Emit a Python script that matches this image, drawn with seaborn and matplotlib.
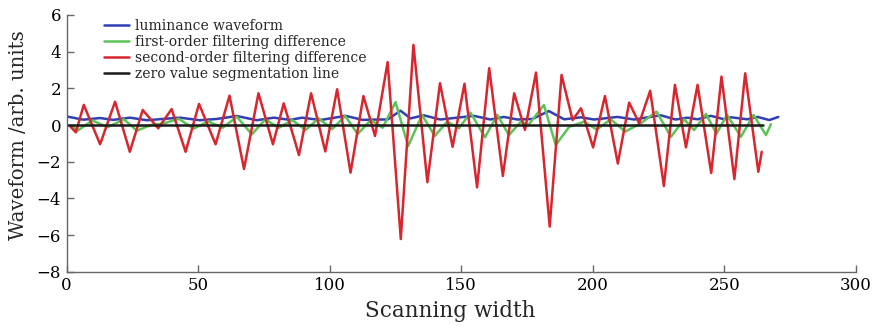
import numpy as np
import pandas as pd
import seaborn as sns
import matplotlib
matplotlib.use("Agg")
import matplotlib.pyplot as plt

# ---- data (x, value at extrema) ----
lum_x = [0.6, 6.3, 12.7, 17.7, 24.1, 30.5, 36.5, 43.1, 50.7, 57.0, 64.7, 72.3, 78.7, 85.0,
         89.5, 96.4, 106.0, 112.5, 118.5, 122.0, 126.9, 130.7, 135.7, 142.0, 149.7, 154.8,
         161.1, 166.2, 171.3, 177.0, 183.3, 189.1, 195.4, 200.5, 209.4, 215.7, 225.8, 231.5,
         236.0, 239.8, 244.9, 250.0, 252.5, 258.8, 262.6, 267.1, 270.5]
lum_y = [0.45, 0.29, 0.38, 0.28, 0.40, 0.26, 0.33, 0.40, 0.26, 0.33, 0.49, 0.26, 0.40, 0.28,
         0.40, 0.27, 0.50, 0.28, 0.30, 0.30, 0.78, 0.36, 0.53, 0.30, 0.42, 0.50,
         0.30, 0.44, 0.30, 0.33, 0.76, 0.31, 0.42, 0.30, 0.44, 0.30, 0.53, 0.30,
         0.40, 0.31, 0.50, 0.31, 0.42, 0.31, 0.44, 0.27, 0.44]

first_x = [2.0, 4.2, 9.8, 15.5, 21.8, 26.7, 32.0, 36.8, 42.6, 48.3, 53.8, 59.3, 64.7, 70.4,
           75.5, 80.6, 85.7, 90.8, 95.8, 100.9, 105.9, 110.6, 115.6, 120.1, 125.0, 129.8,
           135.1, 139.9, 144.6, 149.1, 153.5, 159.0, 163.7, 168.1, 172.6, 175.5, 181.4,
           185.9, 191.0, 196.7, 201.5, 206.8, 212.3, 218.2, 224.2, 229.7, 234.7, 238.5,
           243.0, 247.0, 251.0, 256.3, 261.1, 265.8, 267.7]
first_y = [-0.05, -0.30, 0.25, -0.12, 0.31, -0.31, 0.00, 0.08, 0.34, -0.20, 0.20, -0.15, 0.45, -0.51,
           0.31, -0.16, 0.27, -0.27, 0.36, -0.22, 0.49, -0.49, 0.27, -0.15, 1.25, -1.15,
           0.55, -0.60, 0.18, -0.18, 0.67, -0.67, 0.55, -0.55, 0.18, 0.00, 1.09,
           -1.09, -0.10, 0.18, -0.25, 0.31, -0.36, 0.09, 0.73, -0.64, 0.31, -0.27,
           0.60, -0.47, 0.55, -0.64, 0.55, -0.55, 0.04]

second_x = [1.5, 3.5, 6.5, 12.7, 18.4, 24.0, 28.9, 34.8, 39.9, 45.2, 50.3, 56.6, 61.9, 67.4,
            72.9, 78.4, 82.5, 88.3, 92.9, 98.3, 102.8, 107.9, 112.8, 117.2, 122.0, 127.0,
            131.8, 137.1, 141.9, 146.7, 151.2, 156.0, 160.6, 165.8, 170.1, 174.2, 178.4,
            183.6, 188.1, 192.3, 195.5, 200.1, 204.6, 209.5, 213.8, 217.6, 221.8, 227.0,
            231.2, 235.4, 239.8, 245.0, 248.9, 253.8, 257.9, 262.9, 264.2]
second_y = [-0.10, -0.40, 1.10, -1.05, 1.27, -1.46, 0.82, -0.18, 0.87, -1.46, 1.15, -1.05, 1.60, -2.40,
            1.73, -1.05, 1.18, -1.64, 1.73, -1.44, 1.95, -2.60, 1.58, -0.60, 3.43, -6.22,
            4.37, -3.12, 2.28, -1.19, 2.25, -3.40, 3.10, -2.78, 1.73, -0.27, 2.86,
            -5.54, 2.73, 0.27, 0.91, -1.22, 1.58, -2.10, 1.22, 0.09, 1.87, -3.33,
            2.19, -1.22, 2.19, -2.62, 2.64, -2.95, 2.82, -2.55, -1.46]

zero_x = [0.0, 264.6]
zero_y = [0.0, 0.0]

names = ["luminance waveform", "first-order filtering difference",
         "second-order filtering difference", "zero value segmentation line"]
colors = ["#2f3fb4", "#5cc35a", "#d8262e", "#1a1a1a"]

x_ticks = [0, 50, 100, 150, 200, 250, 300]
y_ticks = [-8, -6, -4, -2, 0, 2, 4, 6]

frames = []
for n, xs, ys in zip(names, [lum_x, first_x, second_x, zero_x],
                     [lum_y, first_y, second_y, zero_y]):
    frames.append(pd.DataFrame({"x": xs, "y": ys, "series": n}))
df = pd.concat(frames, ignore_index=True)

sns.set_style("ticks")
plt.rcParams["font.family"] = ["DejaVu Serif"]
plt.rcParams["mathtext.fontset"] = "dejavuserif"

fig = plt.figure(figsize=(8.75, 3.26), dpi=100)
ax = fig.add_axes([0.0762, 0.1666, 0.902, 0.7874])

sns.lineplot(data=df, x="x", y="y", hue="series", hue_order=names,
             palette=dict(zip(names, colors)), estimator=None, sort=False,
             units="series", linewidth=1.8, ax=ax)

ax.set_xlim(0, 300)
ax.set_ylim(-8, 6)
ax.set_xticks(x_ticks)
ax.set_yticks(y_ticks)
ax.tick_params(direction="in", length=5, width=1, color="#666666",
               labelsize=12, labelcolor="black", pad=4)
for s in ["top", "right"]:
    ax.spines[s].set_visible(False)
for s in ["left", "bottom"]:
    ax.spines[s].set_color("#666666")
    ax.spines[s].set_linewidth(1)

ax.set_xlabel("Scanning width", fontsize=15.5)
ax.set_ylabel("Waveform /arb. units", fontsize=14.2)
ax.xaxis.set_label_coords((450 - 66.7) / 789.3, -0.11)
ax.yaxis.set_label_coords(-0.049, (271.7 - 135) / 256.7)

leg = ax.legend(loc="upper left", bbox_to_anchor=(0.047, 0.985), frameon=False,
                fontsize=10, handlelength=1.8, handletextpad=0.45,
                labelspacing=0.15, borderaxespad=0, borderpad=0)
for h in leg.get_lines():
    h.set_linewidth(1.8)

fig.savefig("out.png", dpi=100)
